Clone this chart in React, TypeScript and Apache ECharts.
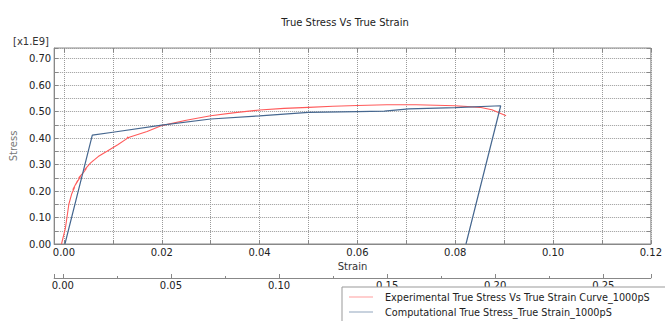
import React, { useEffect, useRef } from "react";
import * as echarts from "echarts";

const TITLE = "True Stress Vs True Strain";
const Y_UNIT = "[x1.E9]";
const X_NAME = "Strain";
const Y_NAME = "Stress";
const SERIES_NAMES = [
  "Experimental True Stress Vs True Strain Curve_1000pS",
  "Computational True Stress_True Strain_1000pS",
];

// Experimental curve (strain, stress in 1e9)
const expStrain = [
  -0.0005, 0.0003, 0.001, 0.0016, 0.0022, 0.0018, 0.0028, 0.0024, 0.0034, 0.003,
  0.004, 0.0046, 0.0042, 0.0054, 0.006, 0.0057, 0.007, 0.0088, 0.011, 0.0128,
  0.0131, 0.0129, 0.0135, 0.017, 0.02, 0.025, 0.03, 0.035, 0.04, 0.045,
  0.05, 0.055, 0.06, 0.066, 0.072, 0.08, 0.085, 0.0875, 0.0904,
];
const expStress = [
  0.0, 0.06, 0.15, 0.19, 0.215, 0.205, 0.24, 0.225, 0.255, 0.25,
  0.27, 0.285, 0.28, 0.305, 0.315, 0.31, 0.33, 0.35, 0.375, 0.397,
  0.405, 0.399, 0.404, 0.425, 0.447, 0.467, 0.484, 0.496, 0.506, 0.512,
  0.516, 0.52, 0.523, 0.526, 0.526, 0.522, 0.516, 0.507, 0.484,
];

// Computational curve
const compStrain = [
  0.0002, 0.0058, 0.01, 0.02, 0.03, 0.04, 0.05, 0.06, 0.0655, 0.0705, 0.08, 0.0893, 0.0822,
];
const compStress = [
  0.0, 0.411, 0.422, 0.449, 0.472, 0.484, 0.497, 0.5, 0.502, 0.51, 0.515, 0.522, 0.0,
];

const FONT = "DejaVu Sans";

const fmtStep = (v: number, mult: number, every: number) => {
  const s = v * mult;
  const k = Math.round(s);
  if (Math.abs(s - k) > 1e-6) return "";
  if (k % every !== 0) return "";
  return (k / mult).toFixed(2);
};

export default function App() {
  const ref = useRef<HTMLDivElement>(null);

  useEffect(() => {
    if (!ref.current) return;
    const chart = echarts.init(ref.current, undefined, { renderer: "svg" });
    const expData = expStrain.map((x, i) => [x, expStress[i]]);
    const compData = compStrain.map((x, i) => [x, compStress[i]]);

    const gridLine = { show: true, lineStyle: { color: "#9a9a9a", type: [1, 1] as any, width: 1 } };
    const axisCol = "#888";

    chart.setOption({
      animation: false,
      backgroundColor: "#fff",
      title: {
        text: TITLE,
        left: 340,
        textAlign: "center",
        top: 12,
        textStyle: { fontFamily: FONT, fontSize: 10, fontWeight: "normal", color: "#222" },
      },
      graphic: [
        {
          type: "text",
          left: 13,
          top: 36,
          style: { text: Y_UNIT, font: `10px "${FONT}"`, fill: "#333" },
        },
      ],
      legend: {
        orient: "vertical",
        left: 342,
        top: 287,
        height: 60,
        padding: [5, 20, 10, 7],
        itemGap: 5,
        itemWidth: 24,
        itemHeight: 1.5,
        icon: "path://M0,0H24V1H0Z",
        borderColor: "#999",
        borderWidth: 1,
        backgroundColor: "#fff",
        itemStyle: { opacity: 0.6 },
        textStyle: { fontFamily: FONT, fontSize: 9.7, color: "#222", padding: [0, 0, 0, 7] },
        data: SERIES_NAMES,
      },
      grid: [
        { left: 53, top: 48, width: 601, height: 196, show: true, borderColor: axisCol, borderWidth: 1 },
      ],
      xAxis: [
        {
          gridIndex: 0,
          type: "value",
          position: "bottom",
          min: -0.002,
          max: 0.12,
          splitNumber: 12,
          name: X_NAME,
          nameLocation: "middle",
          nameGap: 16,
          nameTextStyle: { fontFamily: FONT, fontSize: 10, color: "#333" },
          axisLine: { show: true, onZero: false, lineStyle: { color: axisCol } },
          axisTick: { show: true, inside: true, length: 4, lineStyle: { color: axisCol } },
          axisLabel: {
            margin: 3,
            fontFamily: FONT,
            fontSize: 10,
            color: "#222",
            formatter: (v: number) => fmtStep(v, 100, 2),
          },
          splitLine: gridLine,
        },
        {
          gridIndex: 0,
          type: "value",
          position: "top",
          min: -0.002,
          max: 0.12,
          splitNumber: 12,
          axisLine: { show: false, onZero: false },
          axisTick: { show: true, inside: true, length: 4, lineStyle: { color: axisCol } },
          axisLabel: { show: false },
          splitLine: { show: false },
        },
        {
          gridIndex: 0,
          type: "value",
          position: "bottom",
          offset: 34,
          min: -0.004,
          max: 0.272,
          splitNumber: 6,
          axisLine: { show: true, onZero: false, lineStyle: { color: axisCol } },
          axisTick: { show: true, inside: true, length: 4, lineStyle: { color: axisCol } },
          minorTick: { show: true, splitNumber: 2, length: 2, lineStyle: { color: axisCol } },
          axisLabel: {
            margin: 2,
            fontFamily: FONT,
            fontSize: 10,
            color: "#222",
            formatter: (v: number) => fmtStep(v, 20, 1),
          },
          splitLine: { show: false },
        },
      ],
      yAxis: [
        {
          gridIndex: 0,
          type: "value",
          position: "left",
          min: 0,
          max: 0.74,
          interval: 0.05,
          name: Y_NAME,
          nameLocation: "middle",
          nameGap: 28,
          nameTextStyle: { fontFamily: FONT, fontSize: 10, color: "#777" },
          axisLine: { show: true, onZero: false, lineStyle: { color: axisCol } },
          axisTick: { show: true, inside: true, length: 4, lineStyle: { color: axisCol } },
          axisLabel: {
            margin: 3,
            fontFamily: FONT,
            fontSize: 10,
            color: "#222",
            formatter: (v: number) => fmtStep(v, 100, 10),
          },
          splitLine: gridLine,
        },
        {
          gridIndex: 0,
          type: "value",
          position: "right",
          min: 0,
          max: 0.74,
          interval: 0.05,
          axisLine: { show: false, onZero: false },
          axisTick: { show: true, inside: true, length: 4, lineStyle: { color: axisCol } },
          axisLabel: { show: false },
          splitLine: { show: false },
        },
      ],
      series: [
        {
          name: SERIES_NAMES[0],
          type: "line",
          xAxisIndex: 0,
          yAxisIndex: 0,
          data: expData,
          symbol: "none",
          color: "#ff5a5a",
          lineStyle: { color: "#ff5a5a", width: 1.1 },
          clip: true,
        },
        {
          name: SERIES_NAMES[1],
          type: "line",
          xAxisIndex: 0,
          yAxisIndex: 0,
          data: compData,
          symbol: "none",
          color: "#46678f",
          lineStyle: { color: "#46678f", width: 1.2 },
          clip: true,
        },
      ],
    });
    return () => chart.dispose();
  }, []);

  return (
    <div
      ref={ref}
      style={{ position: "fixed", left: 0, top: 0, width: 665, height: 321, background: "#fff" }}
    />
  );
}
